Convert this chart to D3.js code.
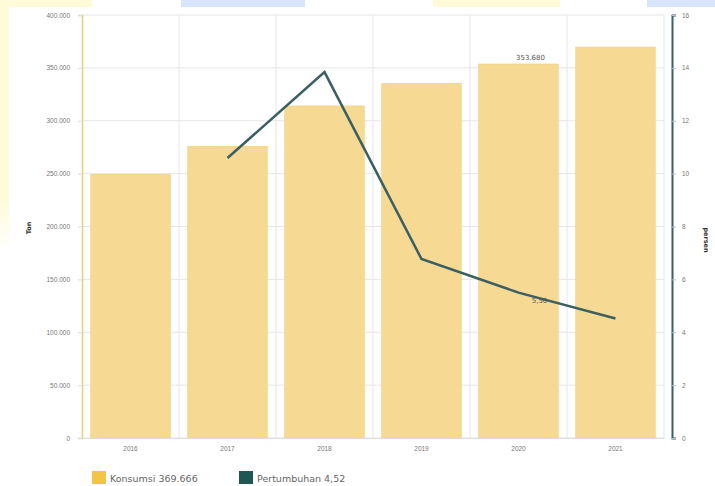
<!DOCTYPE html>
<html><head><meta charset="utf-8">
<script src="https://cdn.jsdelivr.net/npm/d3@7"></script>
<style>body{margin:0;background:#fff;}svg{display:block;font-family:"DejaVu Sans",sans-serif;}</style>
</head><body><svg id="c" width="715" height="486"></svg>
<script>
const years = ["2016","2017","2018","2019","2020","2021"];
const konsumsi = [249400, 275800, 314000, 335200, 353680, 369666];
const pertumbuhan = [null, 10.59, 13.84, 6.77, 5.5, 4.52];
const leftTicks = [0,50000,100000,150000,200000,250000,300000,350000,400000];
const rightTicks = [0,2,4,6,8,10,12,14,16];
const legendLabels = ["Konsumsi 369.666", "Pertumbuhan 4,52"];
const barLabel = {year:"2020", text:"353.680"};
const lineLabel = {year:"2020", text:"5,50"};

const svg = d3.select("#c");
const fmt = v => d3.format(",")(v).replace(/,/g,".");

// background artifacts from source screenshot
svg.append("rect").attr("x",0).attr("y",0).attr("width",92).attr("height",7).attr("fill","#fffbd8");
svg.append("rect").attr("x",181).attr("y",0).attr("width",124).attr("height",7).attr("fill","#d8e5fd");
svg.append("rect").attr("x",433).attr("y",0).attr("width",127).attr("height",7).attr("fill","#fffbd8");
svg.append("rect").attr("x",647).attr("y",0).attr("width",68).attr("height",7).attr("fill","#d8e5fd");
const lg = svg.append("defs").append("linearGradient").attr("id","ls").attr("x1",0).attr("x2",0).attr("y1",0).attr("y2",1);
lg.append("stop").attr("offset","0").attr("stop-color","#fffbd8");
lg.append("stop").attr("offset","0.8").attr("stop-color","#fffbd8");
lg.append("stop").attr("offset","1").attr("stop-color","#fff");
svg.append("rect").attr("x",0).attr("y",0).attr("width",9).attr("height",250).attr("fill","url(#ls)");

const x = d3.scaleBand().domain(years).range([82,664]).paddingInner(0.18).paddingOuter(0.09);
const yL = d3.scaleLinear().domain([0,400000]).range([438,15]);
const yR = d3.scaleLinear().domain([0,16]).range([438,15]);

// horizontal grid
svg.append("g").selectAll("line").data(leftTicks).join("line")
  .attr("x1",82).attr("x2",664).attr("y1",d=>yL(d)).attr("y2",d=>yL(d))
  .attr("stroke","#e6e6e6").attr("stroke-width",1);
// vertical grid at band boundaries
const bounds = years.map(d => x(d) + x.bandwidth() + x.step()*x.paddingInner()/2);
svg.append("g").selectAll("line").data(bounds).join("line")
  .attr("x1",d=>d).attr("x2",d=>d).attr("y1",15).attr("y2",438)
  .attr("stroke","#e6e6e6").attr("stroke-width",1);

// bars
svg.append("g").selectAll("rect").data(years).join("rect")
  .attr("x",d=>x(d)).attr("width",x.bandwidth())
  .attr("y",(d,i)=>yL(konsumsi[i])).attr("height",(d,i)=>438-yL(konsumsi[i]))
  .attr("fill","#f6da93").attr("stroke","#f0cf78").attr("stroke-width",0.6);

// left axis
const axL = svg.append("g").attr("transform","translate(82,0)")
  .call(d3.axisLeft(yL).tickValues(leftTicks).tickFormat(fmt).tickSize(4).tickPadding(8));
axL.select(".domain").attr("stroke","#e3cf7c").attr("stroke-width",1.5);
axL.selectAll(".tick line").attr("stroke","#ddd");
axL.selectAll("text").attr("fill","#777").attr("font-size",6.5);

// right axis
const axR = svg.append("g").attr("transform","translate(672,0)")
  .call(d3.axisRight(yR).tickValues(rightTicks).tickSize(4).tickPadding(6));
axR.select(".domain").attr("stroke","#3c5f68").attr("stroke-width",2);
axR.selectAll(".tick line").attr("stroke","#bbc");
axR.selectAll("text").attr("fill","#777").attr("font-size",6.5);

// x axis labels
const axX = svg.append("g").attr("transform","translate(0,438)")
  .call(d3.axisBottom(x).tickSize(0).tickPadding(8));
axX.select(".domain").attr("stroke","#ddd");
axX.selectAll("text").attr("fill","#777").attr("font-size",6.5);

// line
const pts = years.map((d,i)=>({d, v:pertumbuhan[i]})).filter(p=>p.v!=null);
svg.append("path").datum(pts)
  .attr("d", d3.line().x(p=>x(p.d)+x.bandwidth()/2).y(p=>yR(p.v)))
  .attr("fill","none").attr("stroke","#3b5f62").attr("stroke-width",2.5);

// data labels
const bi = years.indexOf(barLabel.year);
svg.append("text").attr("x",x(barLabel.year)+x.bandwidth()/2+12).attr("y",yL(konsumsi[bi])-4)
  .attr("text-anchor","middle").attr("font-size",7).attr("fill","#555").text(barLabel.text);
const li = years.indexOf(lineLabel.year);
svg.append("text").attr("x",x(lineLabel.year)+x.bandwidth()/2+21).attr("y",yR(pertumbuhan[li])+10)
  .attr("text-anchor","middle").attr("font-size",7).attr("fill","#555").text(lineLabel.text);

// axis titles
svg.append("text").attr("transform","translate(31,228) rotate(-90)").attr("text-anchor","middle")
  .attr("font-size",6.5).attr("font-weight","bold").attr("fill","#333").text("Ton");
svg.append("text").attr("transform","translate(704,240) rotate(90)").attr("text-anchor","middle")
  .attr("font-size",6.5).attr("font-weight","bold").attr("fill","#333").text("persen");

// legend
const legColors = ["#f3c545", "#1f5752"];
const legX = [92, 239];
legendLabels.forEach((t,i)=>{
  svg.append("rect").attr("x",legX[i]).attr("y",471).attr("width",14).attr("height",13).attr("fill",legColors[i]);
  svg.append("text").attr("x",legX[i]+18).attr("y",481.5).attr("font-size",9.5).attr("fill","#666").text(t);
});
</script></body></html>
